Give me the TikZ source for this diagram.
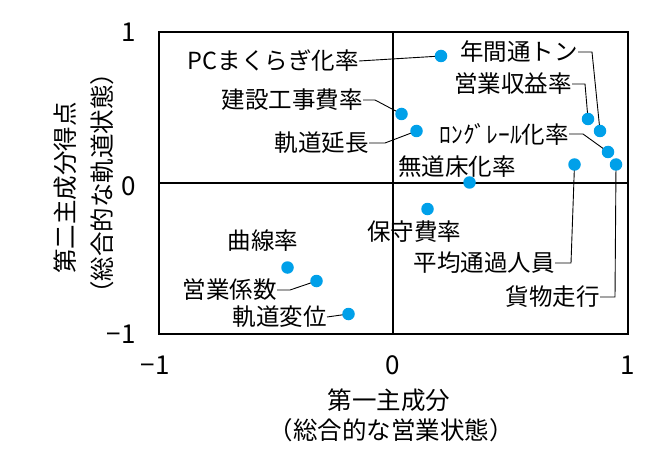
\documentclass[tikz,border=0pt]{standalone}
\usepackage{fontspec}
\setmainfont{Noto Sans CJK JP}
\definecolor{dotblue}{HTML}{00A0E9}
\begin{document}
\begin{tikzpicture}[x=1pt,y=-1pt,
  lbl/.style={inner sep=0pt,font=\fontsize{23.5}{26}\selectfont},
  axt/.style={inner sep=0pt,font=\fontsize{24.5}{26}\selectfont},
  tick/.style={inner sep=0pt,font=\fontsize{26}{28}\selectfont},
  pt/.style={circle,fill=dotblue,minimum size=12.5pt,inner sep=0pt},
  lead/.style={line width=0.9pt},
  frame/.style={line width=2.4pt},
  zero/.style={line width=2pt}]
\useasboundingbox (0,0) rectangle (666,457);
% frame
\draw[zero] (159,183) -- (628,183);
\draw[zero] (393,32) -- (393,334);
\draw[frame] (159,32) rectangle (628,334);
% ticks
\node[tick,anchor=east] (ty1) at (136,32) {1};
\node[tick,anchor=east] (ty0) at (136,186) {0};
\node[tick,anchor=east] (tym) at (136,334) {−1};
\node[tick] (txm) at (155,365) {−1};
\node[tick] (tx0) at (393,365) {0};
\node[tick] (tx1) at (628,365) {1};
% axis titles
\node[axt] (xt1) at (389,400) {第一主成分};
\node[axt] (xt2) at (391,430) {（総合的な営業状態）};
\node[axt,rotate=90] (yt1) at (65,188) {第二主成分得点};
\node[axt,rotate=90] (yt2) at (102,183) {（総合的な軌道状態）};
% labels
\node[lbl,anchor=east] (lPC) at (359,61) {PCまくらぎ化率};
\node[lbl,anchor=east] (lKS) at (363,100) {建設工事費率};
\node[lbl,anchor=east] (lKE) at (369,143) {軌道延長};
\node[lbl,anchor=east] (lNT) at (578,52) {年間通トン};
\node[lbl,anchor=east] (lES) at (572,84) {営業収益率};
\node[lbl,anchor=east] (lLR) at (569,134) {ﾛﾝｸﾞﾚｰﾙ化率};
\node[lbl] (lMD) at (457,167) {無道床化率};
\node[lbl] (lHS) at (414,232) {保守費率};
\node[lbl,anchor=east] (lHT) at (555,263) {平均通過人員};
\node[lbl,anchor=east] (lKB) at (600,297) {貨物走行};
\node[lbl] (lKR) at (263,241) {曲線率};
\node[lbl,anchor=east] (lEK) at (277,290) {営業係数};
\node[lbl,anchor=east] (lKH) at (327,317) {軌道変位};
% leaders (drawn before dots)
\coordinate (dPCc) at (441,56);
\coordinate (dKSc) at (401.5,114);
\coordinate (dKEc) at (416.5,131);
\coordinate (dNTc) at (600,131);
\coordinate (dESc) at (588,119);
\coordinate (dLRc) at (608,152);
\coordinate (dHTc) at (574.5,164.5);
\coordinate (dKBc) at (616,164.5);
\coordinate (dEKc) at (316.5,281);
\coordinate (dKHc) at (348.5,314);
\draw[lead] (lPC.east) -- (dPCc);
\draw[lead] (lKS.east) -- ++(12,0) -- (dKSc);
\draw[lead] (lKE.east) -- ++(16,0) -- (dKEc);
\draw[lead] (lNT.east) -- ++(14,0) -- (dNTc);
\draw[lead] (lES.east) -- ++(13,0) -- (dESc);
\draw[lead] (lLR.east) -- ++(14,0) -- (dLRc);
\draw[lead] (lHT.east) -- ++(16,0) -- (dHTc);
\draw[lead] (lKB.east) -- ++(15,0) -- (dKBc);
\draw[lead] (lEK.east) -- ++(13,0) -- (dEKc);
\draw[lead] (lKH.east) -- (dKHc);
% dots
\node[pt] (dPC) at (dPCc) {};
\node[pt] (dKS) at (dKSc) {};
\node[pt] (dKE) at (dKEc) {};
\node[pt] (dNT) at (dNTc) {};
\node[pt] (dES) at (dESc) {};
\node[pt] (dLR) at (dLRc) {};
\node[pt] (dHT) at (dHTc) {};
\node[pt] (dKB) at (dKBc) {};
\node[pt] (dMD) at (469.5,182.5) {};
\node[pt] (dHS) at (427.5,209) {};
\node[pt] (dKR) at (287.5,267.5) {};
\node[pt] (dEK) at (dEKc) {};
\node[pt] (dKH) at (dKHc) {};
\end{tikzpicture}
\end{document}
